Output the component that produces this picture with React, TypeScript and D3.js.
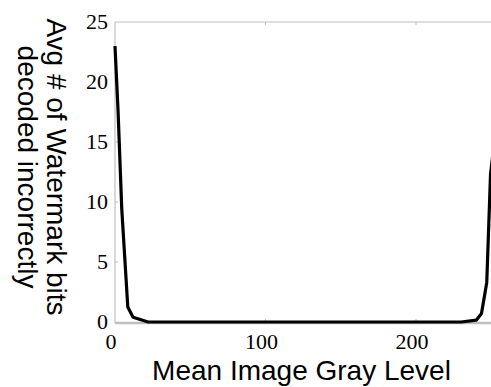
import { useEffect, useRef } from 'react'
import * as d3 from 'd3'

// mean gray level vs avg number of bits decoded incorrectly
const grayLevel = [0, 2, 4.5, 8.5, 12, 22, 230, 240, 243.5, 247, 249.5, 252]
const errorBits = [23, 17.7, 9.4, 1.25, 0.4, 0, 0, 0.15, 0.7, 3.3, 12.3, 15]
const xTicks = [0, 100, 200]
const yTicks = [0, 5, 10, 15, 20, 25]
const xTitle = 'Mean Image Gray Level'
const yTitle = ['Avg # of Watermark bits', 'decoded incorrectly']

export default function App() {
  const svgRef = useRef<SVGSVGElement | null>(null)

  useEffect(() => {
    const W = 491
    const H = 387
    const svg = d3.select(svgRef.current)
    svg.selectAll('*').remove()
    svg.attr('width', W).attr('height', H)

    const x = d3.scaleLinear().domain([0, 255]).range([115, 498.8])
    const y = d3.scaleLinear().domain([0, 25]).range([322, 22])
    const grid = '#bfbfbf'

    svg.append('rect').attr('width', W).attr('height', H).attr('fill', '#fff')

    // frame: top line, left axis, bottom axis
    svg.append('line')
      .attr('x1', x(0)).attr('x2', W).attr('y1', y(25)).attr('y2', y(25))
      .attr('stroke', grid).attr('stroke-width', 1.2)
    svg.append('line')
      .attr('x1', x(0)).attr('x2', x(0)).attr('y1', y(25)).attr('y2', y(0) + 1)
      .attr('stroke', grid).attr('stroke-width', 1.2)
    svg.append('line')
      .attr('x1', x(0)).attr('x2', W).attr('y1', y(0) + 1).attr('y2', y(0) + 1)
      .attr('stroke', grid).attr('stroke-width', 2.5)

    // inside tick marks
    yTicks.slice(1, -1).forEach((t) => {
      svg.append('line')
        .attr('x1', x(0)).attr('x2', x(0) + 3).attr('y1', y(t)).attr('y2', y(t))
        .attr('stroke', grid).attr('stroke-width', 1)
    })
    xTicks.slice(1).forEach((t) => {
      svg.append('line')
        .attr('x1', x(t)).attr('x2', x(t)).attr('y1', y(25)).attr('y2', y(25) + 3)
        .attr('stroke', grid).attr('stroke-width', 1)
      svg.append('line')
        .attr('x1', x(t)).attr('x2', x(t)).attr('y1', y(0)).attr('y2', y(0) - 3)
        .attr('stroke', grid).attr('stroke-width', 1)
    })

    const serif = '"Liberation Serif", "Times New Roman", serif'
    const sans = '"Liberation Sans", Arial, sans-serif'

    svg.append('g').selectAll('text').data(yTicks).join('text')
      .attr('x', 108).attr('y', (d) => y(d)).attr('dy', '0.34em')
      .attr('text-anchor', 'end').attr('font-family', serif).attr('font-size', 22)
      .attr('fill', '#000').text((d) => d)

    svg.append('g').selectAll('text').data(xTicks).join('text')
      .attr('x', (d) => x(d) - 4).attr('y', 349)
      .attr('text-anchor', 'middle').attr('font-family', serif).attr('font-size', 22)
      .attr('fill', '#000').text((d) => d)

    const line = d3.line<number>()
      .x((_, i) => x(grayLevel[i]))
      .y((d) => y(d))

    svg.append('path')
      .datum(errorBits)
      .attr('fill', 'none').attr('stroke', '#000').attr('stroke-width', 3.2)
      .attr('stroke-linejoin', 'round')
      .attr('d', line)

    svg.append('text')
      .attr('x', 301.5).attr('y', 380)
      .attr('text-anchor', 'middle').attr('font-family', sans).attr('font-size', 28)
      .attr('fill', '#000').text(xTitle)

    const yt = svg.append('text')
      .attr('transform', 'translate(46.5,167) rotate(90)')
      .attr('text-anchor', 'middle').attr('font-family', sans).attr('font-size', 28)
      .attr('fill', '#000')
    yTitle.forEach((s, i) => {
      yt.append('tspan').attr('x', 0).attr('y', i * 29).text(s)
    })

    return () => { svg.selectAll('*').remove() }
  }, [])

  return (
    <div style={{ position: 'absolute', left: 0, top: 0 }}>
      <svg ref={svgRef} style={{ display: 'block' }} />
    </div>
  )
}
